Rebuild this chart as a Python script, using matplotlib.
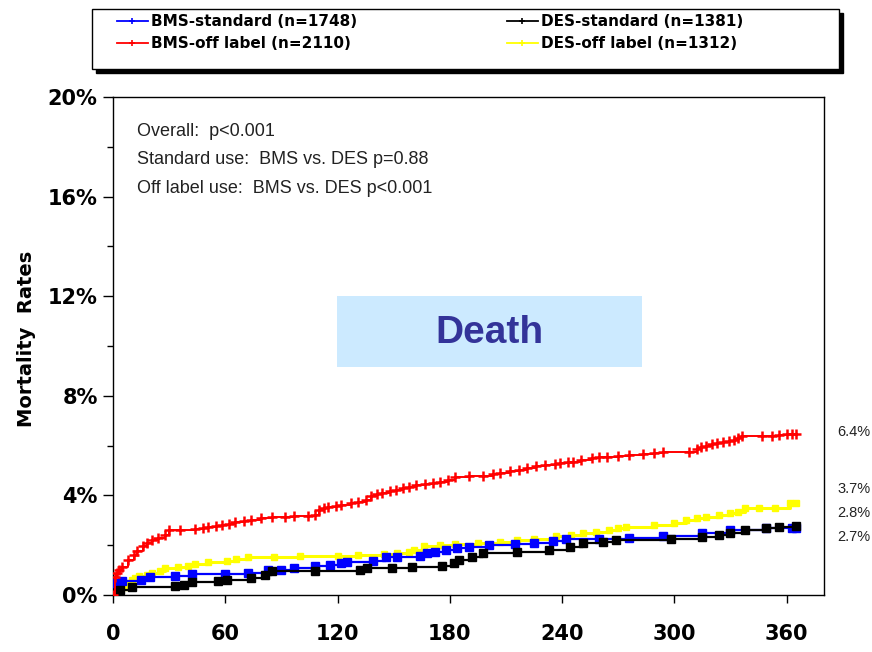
import matplotlib
matplotlib.use("Agg")
import matplotlib.pyplot as plt
from matplotlib.lines import Line2D
from matplotlib.patches import Rectangle
from matplotlib.ticker import FuncFormatter, MultipleLocator

# === DATA ===
SERIES_NAMES = ["BMS-standard (n=1748)", "BMS-off label (n=2110)",
                "DES-standard (n=1381)", "DES-off label (n=1312)"]
SERIES_COLORS = ["#0000ff", "#ff0000", "#000000", "#ffff00"]

bms_std_days = [0, 1, 2, 5, 15, 20, 33, 42, 60, 72, 83, 90, 97, 108, 116, 122, 125,
                139, 146, 152, 164, 168, 172, 178, 184, 190, 201, 215, 225, 235,
                242, 260, 276, 294, 315, 330, 349, 363, 365]
bms_std_pct = [0, 0.07, 0.47, 0.57, 0.6, 0.74, 0.76, 0.84, 0.86, 0.9, 1.0, 1.02, 1.07,
               1.18, 1.22, 1.27, 1.34, 1.38, 1.51, 1.54, 1.56, 1.67, 1.74, 1.8, 1.87,
               1.92, 2.0, 2.05, 2.1, 2.17, 2.24, 2.26, 2.28, 2.37, 2.48, 2.61, 2.68,
               2.68, 2.68]

bms_off_days = [0, 1, 2, 3, 5, 8, 11, 13, 16, 18, 21, 24, 28, 30, 36, 44, 48, 51, 55,
                58, 62, 65, 70, 74, 79, 85, 92, 97, 104, 108, 110, 113, 115, 119, 122,
                127, 131, 135, 138, 141, 144, 148, 151, 155, 158, 162, 167, 171, 175,
                179, 183, 190, 198, 203, 207, 212, 217, 221, 226, 231, 236, 239, 243,
                246, 250, 256, 260, 264, 270, 276, 283, 289, 294, 308, 312, 314, 317,
                320, 323, 326, 329, 332, 334, 336, 347, 352, 356, 360, 363, 365]
bms_off_pct = [0, 0.74, 0.9, 1.0, 1.14, 1.4, 1.6, 1.75, 1.95, 2.1, 2.2, 2.28, 2.41, 2.6,
               2.62, 2.65, 2.7, 2.74, 2.78, 2.82, 2.87, 2.94, 2.97, 3.01, 3.1, 3.12,
               3.14, 3.16, 3.18, 3.22, 3.4, 3.48, 3.52, 3.57, 3.62, 3.68, 3.75, 3.8,
               3.98, 4.05, 4.11, 4.16, 4.22, 4.28, 4.35, 4.4, 4.46, 4.5, 4.55, 4.6,
               4.72, 4.76, 4.78, 4.84, 4.89, 4.96, 5.04, 5.1, 5.17, 5.22, 5.27, 5.3,
               5.33, 5.36, 5.42, 5.5, 5.53, 5.56, 5.59, 5.62, 5.66, 5.7, 5.73, 5.76,
               5.88, 5.94, 5.98, 6.05, 6.1, 6.13, 6.17, 6.22, 6.3, 6.37, 6.38, 6.4,
               6.43, 6.45, 6.47, 6.47]

des_std_days = [0, 2, 4, 10, 33, 38, 42, 56, 61, 74, 81, 85, 108, 132, 136, 149, 160,
                176, 182, 185, 192, 198, 216, 233, 244, 251, 262, 269, 298, 315, 324,
                330, 338, 349, 356, 365]
des_std_pct = [0, 0.07, 0.2, 0.33, 0.35, 0.4, 0.53, 0.55, 0.6, 0.67, 0.8, 0.98, 0.98,
               1.0, 1.07, 1.08, 1.14, 1.16, 1.27, 1.41, 1.54, 1.67, 1.74, 1.8, 1.94,
               2.07, 2.14, 2.2, 2.24, 2.34, 2.41, 2.5, 2.61, 2.68, 2.74, 2.76]

des_off_days = [0, 2, 4, 6, 8, 10, 12, 14, 18, 21, 25, 28, 35, 40, 44, 51, 61, 66, 72,
                86, 100, 120, 131, 145, 152, 158, 161, 166, 175, 183, 195, 207, 216,
                225, 237, 245, 251, 258, 265, 270, 274, 289, 300, 306, 312, 317, 324,
                330, 334, 338, 345, 354, 362, 365]
des_off_pct = [0, 0.13, 0.25, 0.33, 0.48, 0.6, 0.7, 0.76, 0.82, 0.87, 0.95, 1.07, 1.14,
               1.18, 1.24, 1.34, 1.38, 1.44, 1.51, 1.54, 1.56, 1.58, 1.61, 1.64, 1.67,
               1.74, 1.8, 1.97, 2.0, 2.05, 2.08, 2.14, 2.19, 2.24, 2.37, 2.42, 2.48,
               2.54, 2.61, 2.68, 2.74, 2.81, 2.9, 3.01, 3.08, 3.14, 3.21, 3.28, 3.35,
               3.48, 3.48, 3.5, 3.68, 3.68]

X_TICKS = [0, 60, 120, 180, 240, 300, 360]
Y_TICKS = [0, 4, 8, 12, 16, 20]
END_LABELS = ["6.4%", "3.7%", "2.8%", "2.7%"]
STATS_LINES = ["Overall:  p<0.001",
               "Standard use:  BMS vs. DES p=0.88",
               "Off label use:  BMS vs. DES p<0.001"]

W, H = 872, 652


def fx(px):
    return px / W


def fy(py):
    return 1 - py / H


fig = plt.figure(figsize=(W / 100, H / 100), dpi=100)
ax = fig.add_axes([fx(113), fy(595), fx(824) - fx(113), fy(97) - fy(595)])

# order of drawing: yellow, blue, black on top, red
ax.plot(des_off_days, des_off_pct, drawstyle="steps-post", color=SERIES_COLORS[3],
        lw=2.2, marker="s", ms=4, mec=SERIES_COLORS[3], zorder=2)
ax.plot(bms_std_days, bms_std_pct, drawstyle="steps-post", color=SERIES_COLORS[0],
        lw=1.6, marker="s", ms=5.5, mec=SERIES_COLORS[0], zorder=3)
ax.plot(des_std_days, des_std_pct, drawstyle="steps-post", color=SERIES_COLORS[2],
        lw=1.6, marker="s", ms=5.5, mec=SERIES_COLORS[2], zorder=4)
ax.plot(bms_off_days, bms_off_pct, drawstyle="steps-post", color=SERIES_COLORS[1],
        lw=1.4, marker="+", ms=7, mew=1.8, zorder=5)

ax.set_xlim(0, 380)
ax.set_ylim(0, 20)
ax.set_xticks(X_TICKS)
ax.set_yticks(Y_TICKS)
ax.yaxis.set_minor_locator(MultipleLocator(2))
ax.yaxis.set_major_formatter(FuncFormatter(lambda v, p: f"{v:.0f}%"))
ax.tick_params(axis="y", which="major", direction="out", length=7, width=1, pad=4,
               labelsize=15)
ax.tick_params(axis="y", which="minor", direction="out", length=4, width=1)
ax.tick_params(axis="x", which="major", direction="out", length=6, width=1, pad=15,
               labelsize=15)
for lbl in ax.get_xticklabels() + ax.get_yticklabels():
    lbl.set_fontweight("bold")
    lbl.set_family("DejaVu Sans")
for sp in ax.spines.values():
    sp.set_linewidth(1)
    sp.set_color("black")

fig.text(fx(27), fy(339), "Mortality  Rates", rotation=90, ha="center", va="center",
         fontsize=14, fontweight="bold", family="DejaVu Sans")

# stats text
for i, line in enumerate(STATS_LINES):
    ax.text(0.034, 0.930 - i * 0.0565, line, transform=ax.transAxes, ha="left",
            va="center", fontsize=13, family="Liberation Sans", color="#222222")

# Death box
ax.add_patch(Rectangle((0.315, 0.458), 0.429, 0.142, transform=ax.transAxes,
                       facecolor="#cceaff", edgecolor="none", zorder=1))
ax.text(0.530, 0.527, "Death", transform=ax.transAxes, ha="center", va="center",
        fontsize=28, fontweight="bold", color="#333399", family="Liberation Sans",
        zorder=6)

# end-of-curve labels
for lbl, py in zip(END_LABELS, [432, 489, 513, 537]):
    fig.text(fx(837), fy(py), lbl, ha="left", va="center", fontsize=10.5,
             family="Liberation Sans", color="#222222")

# legend box with shadow
fig.patches.append(Rectangle((fx(96), fy(73)), fx(843) - fx(96), fy(13) - fy(73),
                             transform=fig.transFigure, facecolor="black",
                             edgecolor="black", zorder=1))
fig.patches.append(Rectangle((fx(92), fy(69)), fx(839) - fx(92), fy(9) - fy(69),
                             transform=fig.transFigure, facecolor="white",
                             edgecolor="black", lw=1, zorder=2))

handles = [Line2D([], [], color=c, lw=1.3, marker="+", ms=5, mew=1.2)
           for c in SERIES_COLORS]
leg_kw = dict(frameon=False, loc="upper left", borderpad=0, borderaxespad=0,
              handlelength=2.0, handletextpad=0.2, labelspacing=0.45,
              prop={"family": "DejaVu Sans", "weight": "bold", "size": 11})
fig.legend(handles[:2], SERIES_NAMES[:2], bbox_to_anchor=(fx(117), fy(14)), **leg_kw)
fig.legend(handles[2:], SERIES_NAMES[2:], bbox_to_anchor=(fx(507), fy(14)), **leg_kw)

fig.savefig("out.png", dpi=100)
